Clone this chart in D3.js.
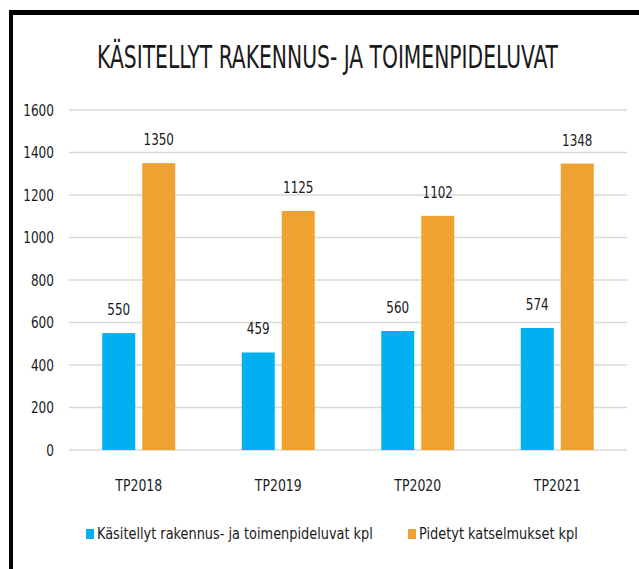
<!DOCTYPE html>
<html>
<head>
<meta charset="utf-8">
<script src="https://cdn.jsdelivr.net/npm/d3@7"></script>
<style>
  body { margin: 0; background: #fff; }
  svg text { font-family: "Liberation Sans Narrow", "Arial Narrow", "DejaVu Sans Condensed", sans-serif; fill: #1a1a1a; }
</style>
</head>
<body>
<svg id="chart" width="639" height="569"></svg>
<script>
// chart data
var categories = ["TP2018", "TP2019", "TP2020", "TP2021"];
var seriesNames = ["Käsitellyt rakennus- ja toimenpideluvat kpl", "Pidetyt katselmukset kpl"];
var luvat = [550, 459, 560, 574];
var katselmukset = [1350, 1125, 1102, 1348];
var yTicks = [0, 200, 400, 600, 800, 1000, 1200, 1400, 1600];
var colors = ["#00b0f0", "#eea231"];

var svg = d3.select("#chart");

let margin = { top: 110, right: 12, bottom: 119, left: 69 };
let plotWidth = 639 - margin.left - margin.right;
let plotHeight = 569 - margin.top - margin.bottom;

// squeeze a text horizontally to a given width, keeping its anchor point
function fitWidth(node, width, ax) {
  var w = node.getComputedTextLength();
  var k = width / w;
  node.setAttribute("transform", "translate(" + ax + ",0) scale(" + k + ",1) translate(" + (-ax) + ",0)");
}

// black frame on top and left side
svg.append("rect").attr("x", 9).attr("y", 10).attr("width", 630).attr("height", 5).attr("fill", "#000");
svg.append("rect").attr("x", 9).attr("y", 10).attr("width", 4).attr("height", 559).attr("fill", "#000");

let title = svg.append("text")
  .attr("x", 327.5)
  .attr("y", 68)
  .attr("text-anchor", "middle")
  .attr("font-size", 32)
  .text("KÄSITELLYT RAKENNUS- JA TOIMENPIDELUVAT");
fitWidth(title.node(), 461, 327.5);

let plot = svg.append("g").attr("transform", "translate(" + margin.left + "," + margin.top + ")");

var yScale = d3.scaleLinear().domain([0, 1600]).range([plotHeight, 0]);
var xScale = d3.scaleBand().domain(categories).range([0, plotWidth]);
var barWidth = 33, barGap = 7;

// gridlines
plot.selectAll("line.grid")
  .data(yTicks)
  .enter().append("line")
  .attr("class", "grid")
  .attr("x1", 0).attr("x2", plotWidth)
  .attr("y1", d => yScale(d)).attr("y2", d => yScale(d))
  .attr("stroke", "#d9d9d9")
  .attr("stroke-width", 1.5);

// y axis labels
let yAxis = d3.axisLeft(yScale).tickValues(yTicks).tickFormat(d3.format("d")).tickSize(0).tickPadding(15);
let yGroup = plot.append("g").call(yAxis);
yGroup.select(".domain").remove();
yGroup.selectAll("text")
  .attr("font-size", 16)
  .attr("fill", "#1a1a1a")
  .style("font-family", "'Liberation Sans Narrow', 'Arial Narrow', 'DejaVu Sans Condensed', sans-serif")
  .each(function(d) { fitWidth(this, String(d).length * 7.7, -15); });

// x axis labels
let xAxis = d3.axisBottom(xScale).tickSize(0).tickPadding(30);
let xGroup = plot.append("g").attr("transform", "translate(0," + plotHeight + ")").call(xAxis);
xGroup.select(".domain").remove();
xGroup.selectAll("text")
  .attr("font-size", 16)
  .attr("fill", "#1a1a1a")
  .style("font-family", "'Liberation Sans Narrow', 'Arial Narrow', 'DejaVu Sans Condensed', sans-serif")
  .each(function() { fitWidth(this, 47, 0); });

var series = [luvat, katselmukset];
series.forEach(function(values, s) {
  var offset = s === 0 ? -barGap / 2 - barWidth : barGap / 2;
  var g = plot.append("g");
  g.selectAll("rect")
    .data(values)
    .enter().append("rect")
    .attr("x", (d, i) => xScale(categories[i]) + xScale.bandwidth() / 2 + offset)
    .attr("y", d => yScale(d))
    .attr("width", barWidth)
    .attr("height", d => plotHeight - yScale(d))
    .attr("fill", colors[s]);
  g.selectAll("text")
    .data(values)
    .enter().append("text")
    .attr("x", (d, i) => xScale(categories[i]) + xScale.bandwidth() / 2 + offset + barWidth / 2)
    .attr("y", d => yScale(d) - 18)
    .attr("text-anchor", "middle")
    .attr("font-size", 16)
    .text(d => d)
    .each(function(d, i) {
      var cx = xScale(categories[i]) + xScale.bandwidth() / 2 + offset + barWidth / 2;
      fitWidth(this, String(d).length * 7.6, cx);
    });
});

// legend
var legendX = [86, 408];
var legendW = [276, 159];
var legend = svg.append("g");
seriesNames.forEach(function(name, s) {
  legend.append("rect")
    .attr("x", legendX[s]).attr("y", 529)
    .attr("width", 8).attr("height", 10)
    .attr("fill", colors[s]);
  let t = legend.append("text")
    .attr("x", legendX[s] + 11)
    .attr("y", 539)
    .attr("font-size", 16)
    .text(name);
  fitWidth(t.node(), legendW[s], legendX[s] + 11);
});
</script>
</body>
</html>
